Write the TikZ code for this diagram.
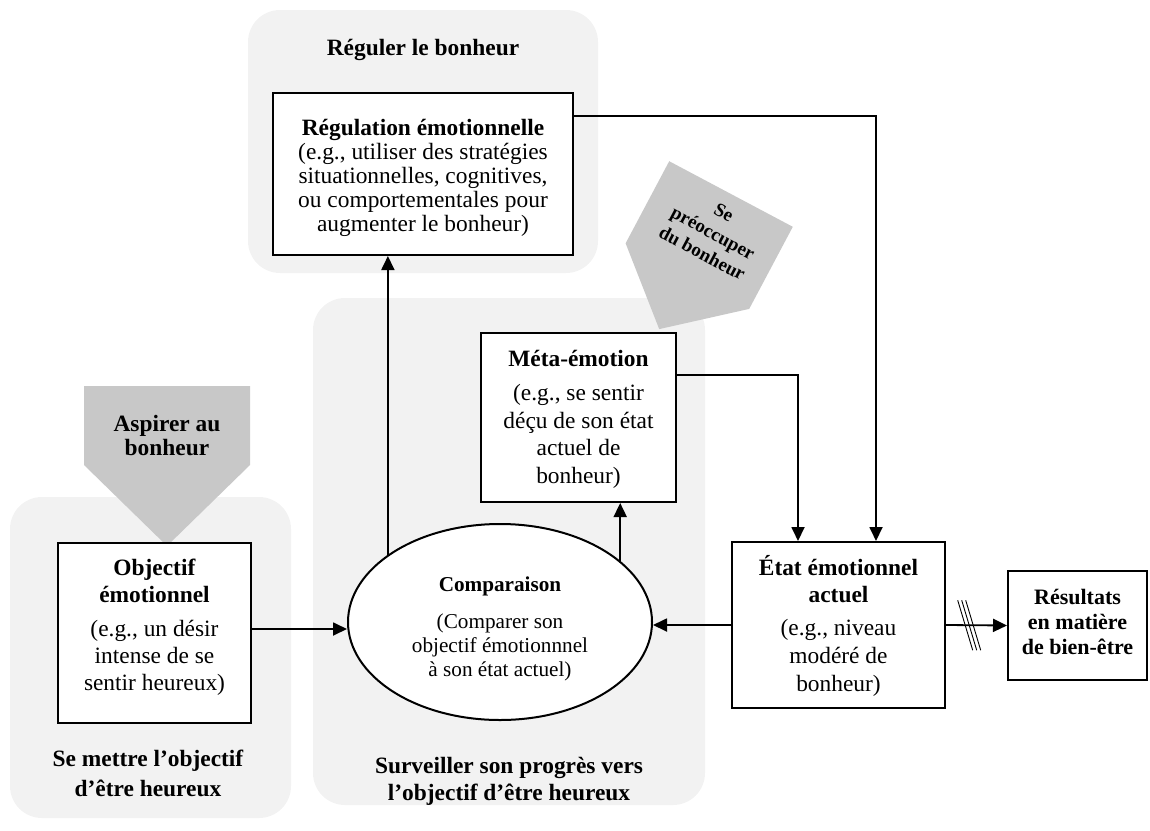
\documentclass[tikz,border=0pt]{standalone}
\usepackage{fontspec}
\setmainfont{Liberation Serif}
\usetikzlibrary{arrows.meta, shapes.geometric, calc}

\definecolor{zone}{RGB}{242,242,242}
\definecolor{pointer}{RGB}{200,200,200}

\begin{document}
\begin{tikzpicture}[x=0.5pt, y=-0.5pt,
  zonebg/.style={fill=zone, draw=none, rounded corners=16pt},
  box/.style={draw=black, line width=1pt, fill=white, inner sep=0pt, rectangle},
  oval/.style={draw=black, line width=1pt, fill=white, inner sep=0pt, ellipse},
  txt/.style={align=center, inner sep=0pt, anchor=base},
  conn/.style={line width=0.9pt, -{Triangle[length=7pt,width=6.5pt]}},
  cutmark/.style={line width=0.45pt},
]
\useasboundingbox (0,0) rectangle (1150,830);

% shaded zones of the three stages
\fill[zonebg] (248,10) rectangle (598,273);
\fill[zonebg] (313,298) rectangle (705,805);
\fill[zonebg] (10,497) rectangle (291,818);

% grey pointers
\fill[pointer] (84,386) -- (250,386) -- (250,465) -- (167,546) -- (84,465) -- cycle;
\fill[pointer] (669.2,161.2) -- (792.8,226.8) -- (749.2,308.9) -- (659.2,329.1) -- (625.6,243.3) -- cycle;

% boxes
\node[box, minimum width=150pt, minimum height=81pt] (reg) at (423,174) {};
\node[box, minimum width=97.5pt, minimum height=84.5pt] (meta) at (578.5,417.5) {};
\node[box, minimum width=96.5pt, minimum height=90pt] (obj) at (154.5,633) {};
\node[box, minimum width=106.5pt, minimum height=83pt] (etat) at (838.5,625) {};
\node[box, minimum width=69.5pt, minimum height=54.5pt] (res) at (1077.5,625.5) {};
\node[oval, minimum width=152pt, minimum height=98pt] (comp) at (500,622) {};

% connectors
\coordinate (objout) at ([yshift=2pt]obj.east);
\draw[conn] (objout) -- (comp.west |- objout);
\draw[conn] (etat.west) -- (comp.east |- etat.west);
\draw[conn] (comp.149) -- (comp.149 |- reg.south);
\draw[conn] (comp.27.6) -- (comp.27.6 |- meta.south);
\draw[conn] ([yshift=-12pt]reg.north east) -| ([xshift=18.75pt]etat.north);
\draw[conn] ([yshift=-21.5pt]meta.north east) -| ([xshift=-20.25pt]etat.north);
\draw[conn] (etat.east) -- (res.west);
\coordinate (cut) at ($(etat.east)!0.38!(res.west)$);
\foreach \d in {-4,0,4}
  \draw[cutmark] ($(cut)+(\d-7.5,-25)$) -- ++(15,50);

% texts (each node sits on the baseline of its last line)
\node[txt, font=\fontsize{11.7}{12}\selectfont\bfseries] (regtitle) at (423,55) {Réguler le bonheur};
\node[txt, font=\fontsize{11.7}{11.9}\selectfont] (regtext) at (423,231)
  {\textbf{Régulation émotionnelle}\\(e.g., utiliser des stratégies\\situationnelles, cognitives,\\ou comportementales pour\\augmenter le bonheur)};
\node[txt, font=\fontsize{11.7}{13.7}\selectfont] (metatext) at (578.5,483)
  {\textbf{Méta-émotion}\\[3.3pt](e.g., se sentir\\déçu de son état\\actuel de\\bonheur)};
\node[txt, font=\fontsize{11.7}{13.3}\selectfont] (objtext) at (154.5,690)
  {\textbf{Objectif}\\\textbf{émotionnel}\\[4pt](e.g., un désir\\intense de se\\sentir heureux)};
\node[txt, font=\fontsize{11.7}{13.8}\selectfont] (etattext) at (838.5,691)
  {\textbf{État émotionnel}\\\textbf{actuel}\\[2.7pt](e.g., niveau\\modéré de\\bonheur)};
\node[txt, font=\fontsize{11}{12.5}\selectfont\bfseries] (restext) at (1077.5,654)
  {Résultats\\en matière\\de bien-être};
\node[txt, font=\fontsize{10.6}{12}\selectfont] (comptext) at (500,676)
  {\textbf{Comparaison}\\[6.5pt](Comparer son\\objectif émotionnnel\\à son état actuel)};
\node[txt, font=\fontsize{11.7}{12}\selectfont\bfseries] (aspire) at (167,455)
  {Aspirer au\\bonheur};
\node[align=center, inner sep=0pt, rotate=-28, font=\fontsize{9.5}{11.5}\selectfont\bfseries] (worry) at (713,233)
  {Se\\préoccuper\\du bonheur};
\node[txt, font=\fontsize{11.7}{13.5}\selectfont\bfseries] (monitor) at (509,800)
  {Surveiller son progrès vers\\l’objectif d’être heureux};
\node[txt, font=\fontsize{11.7}{15}\selectfont\bfseries] (setgoal) at (148,796)
  {Se mettre l’objectif\\d’être heureux};
\end{tikzpicture}
\end{document}
